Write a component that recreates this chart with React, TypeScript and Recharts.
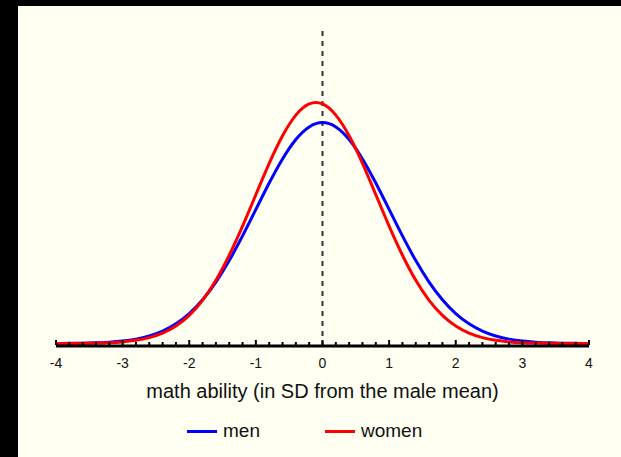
import { LineChart, Line, XAxis, YAxis, ReferenceLine } from "recharts";

const sdSteps = [
  -4, -3.8, -3.6, -3.4, -3.2, -3, -2.8, -2.6, -2.4, -2.2, -2, -1.8, -1.6, -1.4, -1.2, -1, -0.8, -0.6, -0.4, -0.2, 0,
  0.2, 0.4, 0.6, 0.8, 1, 1.2, 1.4, 1.6, 1.8, 2, 2.2, 2.4, 2.6, 2.8, 3, 3.2, 3.4, 3.6, 3.8, 4,
];

const men = [
  0.0001, 0.0003, 0.0006, 0.0012, 0.0024, 0.0044, 0.0079, 0.0136, 0.0224, 0.0355, 0.054, 0.079, 0.1109, 0.1497,
  0.1942, 0.242, 0.2897, 0.3332, 0.3683, 0.391, 0.3989, 0.391, 0.3683, 0.3332, 0.2897, 0.242, 0.1942, 0.1497, 0.1109,
  0.079, 0.054, 0.0355, 0.0224, 0.0136, 0.0079, 0.0044, 0.0024, 0.0012, 0.0006, 0.0003, 0.0001,
];

const women = [
  0.00005, 0.0001, 0.0003, 0.0007, 0.0014, 0.0029, 0.0057, 0.0106, 0.0187, 0.0316, 0.0508, 0.078, 0.1141, 0.1593,
  0.2118, 0.2687, 0.3251, 0.3749, 0.4123, 0.4324, 0.4324, 0.4123, 0.3749, 0.3251, 0.2687, 0.2118, 0.1593, 0.1141,
  0.078, 0.0508, 0.0316, 0.0187, 0.0106, 0.0057, 0.0029, 0.0014, 0.0007, 0.0003, 0.0001, 0.00005, 0.00002,
];

const axisTicks = sdSteps;

const series = [
  { key: "men", name: "men", color: "#0000ff" },
  { key: "women", name: "women", color: "#ff0000" },
];

const data = sdSteps.map((x, i) => ({ x, men: men[i], women: women[i] }));

const FONT = '"Liberation Sans", Arial, sans-serif';

function AxisTick(props: any) {
  const { x, y, payload } = props;
  const v = payload.value;
  const major = Number.isInteger(v);
  return (
    <g>
      <line x1={x} x2={x} y1={y - 1} y2={y - (major ? 6 : 4)} stroke="#000" strokeWidth={2} />
      {major && (
        <text x={x} y={y + 22} textAnchor="middle" fontSize={14} fontFamily={FONT} fill="#111">
          {v}
        </text>
      )}
    </g>
  );
}

export default function App() {
  return (
    <div style={{ position: "fixed", left: 0, top: 0, width: 621, height: 457, background: "#000" }}>
      <div style={{ position: "absolute", left: 18, top: 6, width: 603, height: 451, background: "#fffff2" }}>
        <LineChart width={603} height={451} data={data} margin={{ top: 23, right: 32, left: 38, bottom: 51 }}>
          <XAxis
            dataKey="x"
            type="number"
            domain={[-4, 4]}
            ticks={axisTicks}
            interval={0}
            height={60}
            tickSize={0}
            tickMargin={0}
            tickLine={false}
            axisLine={{ stroke: "#000", strokeWidth: 3 }}
            tick={<AxisTick />}
            label={{
              value: "math ability (in SD from the male mean)",
              position: "insideBottom",
              offset: 8,
              fontSize: 20,
              fontFamily: FONT,
              fill: "#111",
            }}
          />
          <YAxis hide domain={[-0.0045, 0.5677]} allowDataOverflow />
          <ReferenceLine x={0} stroke="#333" strokeWidth={2} strokeDasharray="5 5" />
          {series.map((s) => (
            <Line
              key={s.key}
              dataKey={s.key}
              name={s.name}
              type="natural"
              stroke={s.color}
              strokeWidth={3}
              dot={false}
              isAnimationActive={false}
            />
          ))}
        </LineChart>
        <div
          style={{
            position: "absolute",
            top: 414,
            left: 169,
            display: "flex",
            fontFamily: FONT,
            fontSize: 19,
            color: "#111",
          }}
        >
          {series.map((s) => (
            <div key={s.key} style={{ display: "flex", alignItems: "center", width: 138 }}>
              <span style={{ width: 30, height: 3, background: s.color, marginRight: 6 }} />
              <span>{s.name}</span>
            </div>
          ))}
        </div>
      </div>
    </div>
  );
}
